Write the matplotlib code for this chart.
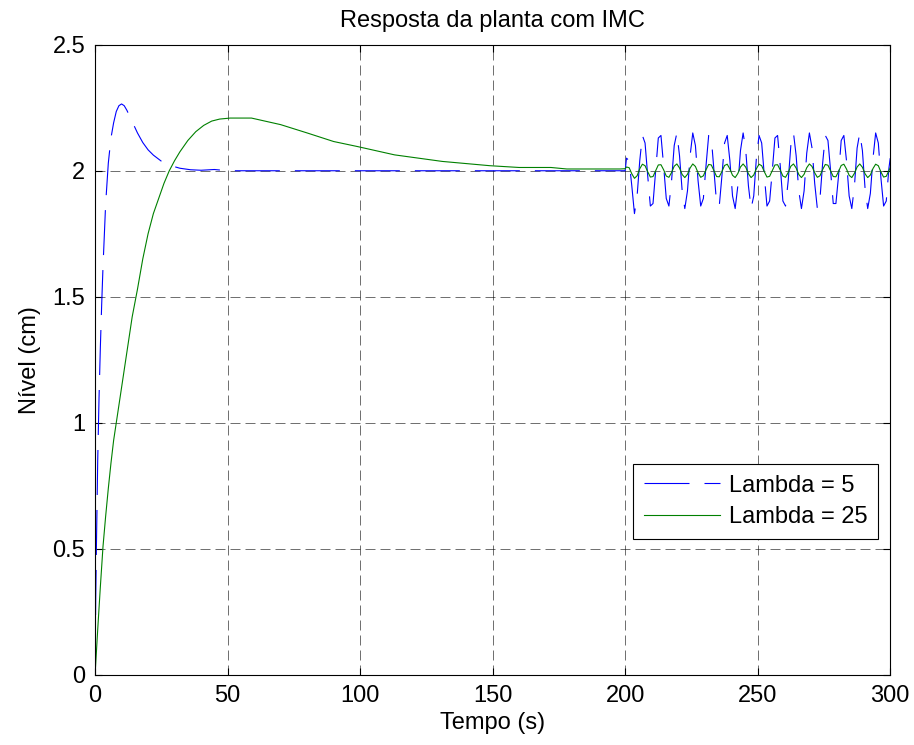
import numpy as np
import matplotlib
matplotlib.use("Agg")
import matplotlib.pyplot as plt

plt.rcParams['font.family'] = ['Liberation Sans', 'DejaVu Sans']
plt.rcParams['lines.scale_dashes'] = False

# Lambda = 5, step response up to t=200
t_l5 = [0, 0.25, 0.5, 1, 1.5, 2, 2.5, 3, 3.5, 4, 5, 6, 7, 8, 9, 10, 11, 12,
        14, 16, 18, 20, 22, 25, 28, 32, 36, 40, 45, 50, 60, 80, 100, 150, 200]
y_l5 = [0, 0.3, 0.5, 0.85, 1.1, 1.3, 1.47, 1.62, 1.74, 1.87, 2.03, 2.13, 2.19,
        2.235, 2.258, 2.265, 2.258, 2.24, 2.195, 2.15, 2.112, 2.083, 2.062,
        2.038, 2.022, 2.01, 2.004, 2.002, 2.005, 2.0, 2.0, 2.0, 2.0, 2.0, 2.0]

# Lambda = 25, step response up to t=200
t_l25 = [0, 1, 2, 3, 4, 5, 6, 7, 8, 10, 12, 14, 16, 18, 20, 22, 24, 26, 28, 30,
         32, 35, 38, 41, 44, 47, 51, 59, 70, 80, 90, 99, 113, 131, 149, 160,
         172, 178, 198, 200]
y_l25 = [0, 0.18, 0.35, 0.51, 0.63, 0.74, 0.84, 0.93, 1.0, 1.14, 1.28, 1.42,
         1.53, 1.65, 1.75, 1.83, 1.89, 1.95, 2.0, 2.04, 2.075, 2.12, 2.155,
         2.18, 2.197, 2.205, 2.209, 2.209, 2.183, 2.15, 2.116, 2.096, 2.063,
         2.037, 2.02, 2.013, 2.013, 2.007, 2.007, 2.008]

# disturbance part, samples at t = 200.5, 201.5, ... 299.5
t_dist = np.arange(200.5, 300, 1.0)
y_l5_dist = [2.05, 2.04, 1.94, 1.83, 1.90, 2.04, 2.14, 2.11, 1.98, 1.86,
             1.87, 2.00, 2.13, 2.14, 2.02, 1.89, 1.86, 1.96, 2.10, 2.15,
             2.06, 1.92, 1.85, 1.92, 2.06, 2.15, 2.10, 1.96, 1.86, 1.89,
             2.02, 2.14, 2.13, 2.00, 1.87, 1.86, 1.98, 2.11, 2.14, 2.04,
             1.90, 1.85, 1.94, 2.08, 2.15, 2.08, 1.94, 1.85, 1.90, 2.05,
             2.14, 2.11, 1.98, 1.86, 1.88, 2.00, 2.13, 2.14, 2.02, 1.88,
             1.86, 1.96, 2.10, 2.15, 2.06, 1.92, 1.85, 1.92, 2.07, 2.15,
             2.09, 1.95, 1.85, 1.89, 2.03, 2.14, 2.12, 2.00, 1.87, 1.87,
             1.98, 2.12, 2.14, 2.04, 1.90, 1.85, 1.94, 2.09, 2.15, 2.08,
             1.93, 1.85, 1.91, 2.05, 2.15, 2.11, 1.97, 1.86, 1.88, 2.01]
y_l25_dist = [2.015, 2.012, 1.988, 1.970, 1.980, 2.008, 2.026, 2.020, 1.996, 1.975,
              1.977, 2.000, 2.023, 2.024, 2.004, 1.979, 1.974, 1.993, 2.018, 2.027,
              2.011, 1.985, 1.973, 1.986, 2.011, 2.027, 2.017, 1.992, 1.974, 1.980,
              2.004, 2.025, 2.023, 2.000, 1.977, 1.976, 1.997, 2.021, 2.026, 2.007,
              1.982, 1.973, 1.989, 2.015, 2.027, 2.014, 1.988, 1.973, 1.983, 2.008,
              2.026, 2.020, 1.996, 1.975, 1.978, 2.001, 2.023, 2.024, 2.003, 1.979,
              1.974, 1.993, 2.018, 2.027, 2.011, 1.985, 1.973, 1.986, 2.012, 2.027,
              2.017, 1.992, 1.974, 1.980, 2.005, 2.025, 2.022, 1.999, 1.977, 1.976,
              1.997, 2.021, 2.026, 2.007, 1.982, 1.973, 1.990, 2.015, 2.027, 2.014,
              1.988, 1.973, 1.983, 2.009, 2.026, 2.020, 1.995, 1.975, 1.978, 2.001]
y_l5_end = 2.05
y_l25_end = 2.012

t5 = np.concatenate([t_l5, t_dist, [300]])
v5 = np.concatenate([y_l5, y_l5_dist, [y_l5_end]])
t25 = np.concatenate([t_l25, t_dist, [300]])
v25 = np.concatenate([y_l25, y_l25_dist, [y_l25_end]])

fs = 17

fig = plt.figure(figsize=(9.14, 7.45), dpi=100)
ax = fig.add_axes([0.104, 0.094, 0.870, 0.846])

ax.plot(t5, v5, color='#0000ff', lw=0.8, linestyle=(0, (32.4, 10.8)), label='Lambda = 5')
ax.plot(t25, v25, color='#008000', lw=0.8, label='Lambda = 25')

ax.set_xlim(0, 300)
ax.set_ylim(0, 2.5)
ax.set_xticks([0, 50, 100, 150, 200, 250, 300])
ax.set_yticks([0, 0.5, 1, 1.5, 2, 2.5])
ax.set_yticklabels(['0', '0.5', '1', '1.5', '2', '2.5'])
ax.grid(True, color='black', lw=0.5, linestyle=(0, (7.2, 3.6)), alpha=0.8)
ax.tick_params(direction='in', top=True, right=True, length=5, width=0.8,
               labelsize=fs)
ax.tick_params(axis='x', pad=7)
ax.tick_params(axis='y', pad=7)
for s in ax.spines.values():
    s.set_linewidth(0.8)

ax.set_title('Resposta da planta com IMC', fontsize=fs, pad=13)
ax.set_xlabel('Tempo (s)', fontsize=fs, labelpad=4)
ax.set_ylabel('Nível (cm)', fontsize=fs, labelpad=8)

leg = ax.legend(loc='lower right', bbox_to_anchor=(0.985, 0.216), borderaxespad=0,
                fancybox=False, framealpha=1, edgecolor='black', fontsize=fs,
                handlelength=3.2, handletextpad=0.4, borderpad=0.45,
                labelspacing=0.4)
leg.get_frame().set_linewidth(0.8)

fig.savefig('out.png', dpi=100)
